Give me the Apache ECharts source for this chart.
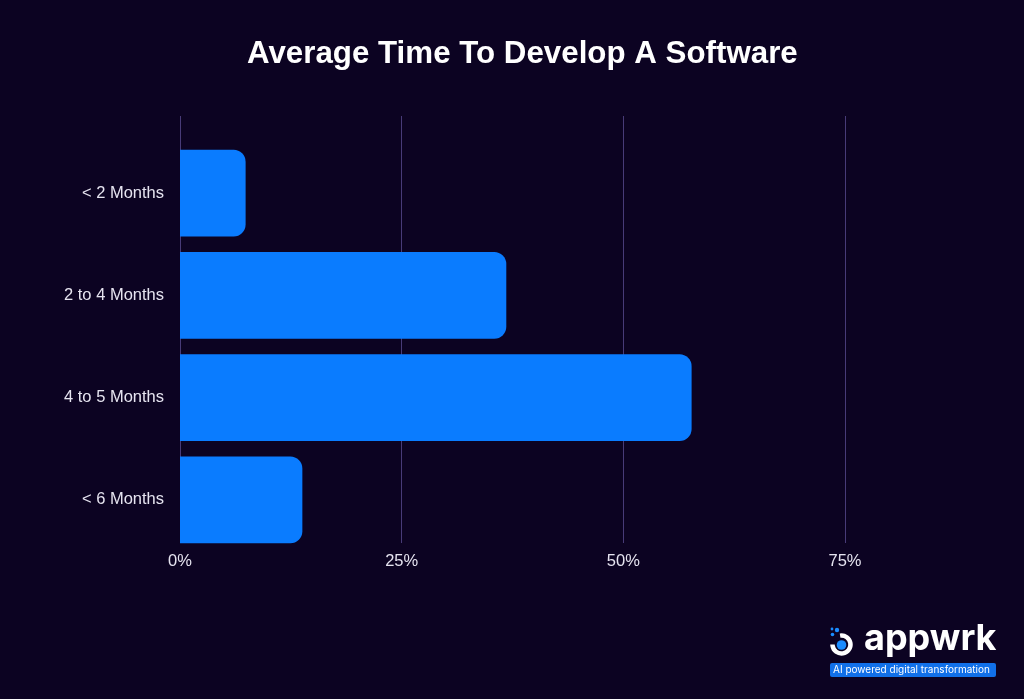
<!DOCTYPE html>
<html><head><meta charset="utf-8">
<style>html,body{margin:0;padding:0;background:#0c0322;}#c{width:1024px;height:699px;}</style>
<script src="https://cdn.jsdelivr.net/npm/echarts@6/dist/echarts.min.js"></script>
</head><body><div id="c"></div>
<script>
var categories = ['< 2 Months', '2 to 4 Months', '4 to 5 Months', '< 6 Months'];
var values = [7.4, 36.8, 57.7, 13.8];
var tickValues = [0, 25, 50, 75];

var chart = echarts.init(document.getElementById('c'));
chart.setOption({
  backgroundColor: '#0c0322',
  animation: false,
  title: {
    text: 'Average Time To Develop A Software',
    left: 242, top: 34,
    textStyle: { color: '#ffffff', fontSize: 31.3, fontWeight: 'bold', fontFamily: 'Liberation Sans' }
  },
  grid: [
    { left: 180, right: 179, top: 142, bottom: 148, containLabel: false },
    { left: 180, right: 179, top: 116, bottom: 156, containLabel: false }
  ],
  xAxis: [{
    type: 'value', gridIndex: 0, min: 0, max: 75, interval: 25,
    axisLine: { show: false }, axisTick: { show: false },
    splitLine: { show: false }, axisLabel: { show: false }
  }, {
    type: 'value', gridIndex: 1, min: 0, max: 75, interval: 25,
    axisLine: { show: false }, axisTick: { show: false },
    splitLine: { show: true, lineStyle: { color: '#483b78', width: 1 } },
    axisLabel: { color: '#e6e4f0', fontSize: 16.5, fontFamily: 'Liberation Sans', margin: 10,
      formatter: function (v) { return tickValues.indexOf(v) >= 0 ? v + '%' : ''; } }
  }],
  yAxis: [{
    type: 'category', gridIndex: 0, data: categories, inverse: true,
    axisLine: { show: false }, axisTick: { show: false },
    axisLabel: { color: '#e6e4f0', fontSize: 16.5, fontFamily: 'Liberation Sans', margin: 16 }
  }, {
    type: 'value', gridIndex: 1, show: false
  }],
  series: [{
    type: 'bar', xAxisIndex: 0, yAxisIndex: 0, data: values, barCategoryGap: '15%',
    itemStyle: { color: '#0a7cff', borderRadius: [0, 12, 12, 0] }
  }],
  graphic: [
    { type: 'arc', shape: { cx: 841.5, cy: 644.5, r: 9, startAngle: -Math.PI * 0.55, endAngle: Math.PI * 1.0 }, style: { fill: 'none', stroke: '#ffffff', lineWidth: 4.5 } },
    { type: 'circle', shape: { cx: 841.5, cy: 645, r: 4.8 }, style: { fill: '#1a8cff' } },
    { type: 'circle', shape: { cx: 837, cy: 630, r: 2.2 }, style: { fill: '#1a8cff' } },
    { type: 'circle', shape: { cx: 832.5, cy: 634.5, r: 1.8 }, style: { fill: '#1a8cff' } },
    { type: 'circle', shape: { cx: 832, cy: 629, r: 1.4 }, style: { fill: '#1a8cff' } },
    { type: 'text', left: 864, top: 621, style: { text: 'appwrk', fill: '#ffffff', fontSize: 36, fontWeight: 'bold', fontFamily: 'Inter' } },
    { type: 'rect', shape: { x: 830, y: 663, width: 166, height: 14, r: 2 }, style: { fill: '#1170e8' } },
    { type: 'text', left: 833, top: 665, style: { text: 'AI powered digital transformation', fill: '#ffffff', fontSize: 10, fontFamily: 'Inter' } }
  ]
});
</script></body></html>
